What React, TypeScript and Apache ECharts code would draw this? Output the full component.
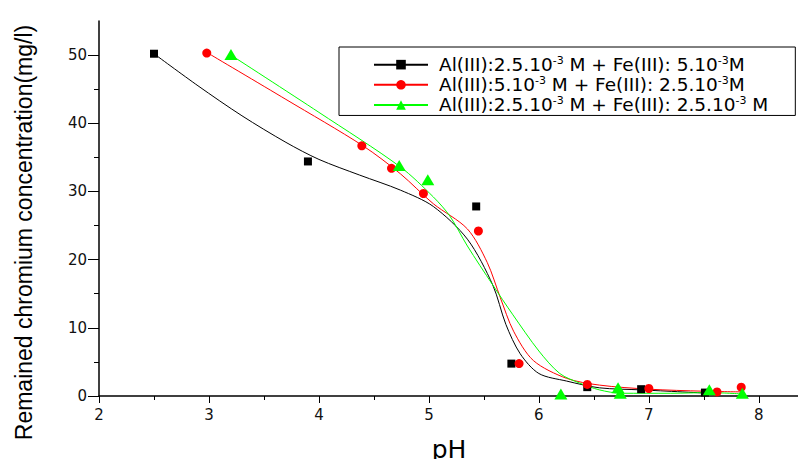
import React, { useEffect, useRef } from "react";
import * as echarts from "echarts";

const seriesNames = [
  "Al(III):2.5.10-3 M + Fe(III): 5.10-3M",
  "Al(III):5.10-3 M + Fe(III): 2.5.10-3M",
  "Al(III):2.5.10-3 M + Fe(III): 2.5.10-3 M",
];
const legendRich = [
  "{a|Al(III):2.5.10}{s|-3}{a| M + Fe(III): 5.10}{s|-3}{a|M}",
  "{a|Al(III):5.10}{s|-3}{a| M + Fe(III): 2.5.10}{s|-3}{a|M}",
  "{a|Al(III):2.5.10}{s|-3}{a| M + Fe(III): 2.5.10}{s|-3}{a| M}",
];
const colors = ["#000000", "#ff0000", "#00ff00"];
const symbols = ["rect", "circle", "triangle"];
const symbolSizes: any[] = [8, 9, [13, 11]];

// measured points
const pointsBlack = [
  [2.5, 50.2], [3.9, 34.4], [5.43, 27.8], [5.75, 4.75], [6.44, 1.3], [6.93, 1.0], [7.51, 0.5],
];
const pointsRed = [
  [2.98, 50.3], [4.39, 36.7], [4.66, 33.4], [4.95, 29.7], [5.45, 24.2], [5.82, 4.75],
  [6.44, 1.7], [7.0, 1.1], [7.62, 0.6], [7.84, 1.3],
];
const pointsGreen = [
  [3.2, 50.1], [4.73, 33.8], [4.99, 31.7], [6.2, 0.3], [6.72, 1.2], [6.74, 0.4],
  [7.55, 0.9], [7.85, 0.4],
];

// fitted curves
const curveBlack = [
  [2.5, 50.2], [2.9, 45.5], [3.3, 41.1], [3.7, 37.2], [4.0, 34.7], [4.37, 32.4],
  [4.74, 30.2], [5.04, 27.8], [5.35, 23.0], [5.58, 16.3], [5.7, 10.5], [5.83, 6.2],
  [6.0, 3.3], [6.25, 2.2], [6.55, 1.2], [6.93, 0.9], [7.55, 0.4],
];
const curveRed = [
  [3.0, 50.2], [3.7, 43.5], [4.4, 36.7], [4.74, 32.6], [5.04, 28.2], [5.35, 24.5],
  [5.53, 19.6], [5.65, 14.4], [5.77, 9.5], [5.95, 5.2], [6.25, 2.6], [6.55, 1.6],
  [7.0, 1.0], [7.5, 0.7], [7.85, 0.6],
];
const curveGreen = [
  [3.2, 50.0], [4.0, 41.6], [4.74, 33.6], [5.04, 29.2], [5.19, 26.4], [5.35, 22.0],
  [5.58, 16.3], [5.76, 12.0], [6.0, 6.6], [6.19, 3.3], [6.37, 1.9], [6.55, 0.9],
  [6.75, 0.4], [7.2, 0.4], [7.55, 0.5], [7.85, 0.3],
];

const xMajorTicks = [2, 3, 4, 5, 6, 7, 8];
const yMajorTicks = [0, 10, 20, 30, 40, 50];
const xAxisTitle = "pH";
const yAxisTitle = "Remained chromium concentration(mg/l)";

const FONT = "'Liberation Sans', Arial, sans-serif";
const WIDE = "'DejaVu Sans', sans-serif";

export default function App() {
  const ref = useRef<HTMLDivElement>(null);
  useEffect(() => {
    if (!ref.current) return;
    const chart = echarts.init(ref.current, null, { renderer: "svg" });
    const curves = [curveBlack, curveRed, curveGreen];
    const points = [pointsBlack, pointsRed, pointsGreen];
    const series: any[] = [];
    curves.forEach((c, i) => {
      series.push({
        type: "line",
        name: seriesNames[i],
        data: c,
        smooth: 0.3,
        showSymbol: false,
        symbol: symbols[i],
        symbolSize: 10,
        itemStyle: { color: colors[i] },
        lineStyle: { color: colors[i], width: 1 },
        z: 2,
      });
    });
    points.forEach((p, i) => {
      series.push({
        type: "scatter",
        name: "pts" + i,
        data: p,
        symbol: symbols[i],
        symbolSize: symbolSizes[i],
        itemStyle: { color: colors[i], opacity: 1 },
        z: 3,
      });
    });
    chart.setOption({
      animation: false,
      backgroundColor: "#ffffff",
      grid: { left: 99, right: 1, top: 21, bottom: 64, containLabel: false },
      legend: {
        data: seriesNames,
        orient: "vertical",
        left: 339,
        top: 47,
        padding: [7, 27, 1, 34],
        itemGap: 0,
        itemWidth: 54,
        itemHeight: 12,
        borderColor: "#000",
        borderWidth: 1,
        backgroundColor: "#fff",
        formatter: (name: string) => legendRich[seriesNames.indexOf(name)],
        textStyle: {
          fontFamily: WIDE,
          fontSize: 18.5,
          color: "#000",
          padding: [0, 0, 0, 6],
          rich: {
            a: { fontFamily: WIDE, fontSize: 18.5, color: "#000", lineHeight: 21.3 },
            s: { fontFamily: WIDE, fontSize: 11, color: "#000", lineHeight: 11, verticalAlign: "top", padding: [1, 0, 0, 0] },
          },
        },
      },
      xAxis: {
        type: "value",
        min: 2,
        max: 8.42,
        interval: 1,
        name: xAxisTitle,
        nameLocation: "middle",
        nameGap: 41,
        nameTextStyle: { fontFamily: WIDE, fontSize: 25, color: "#000", padding: [0, 6, 0, 0] },
        axisLine: { show: true, onZero: false, lineStyle: { color: "#000", width: 1.5 } },
        axisTick: { show: true, length: 7, customValues: xMajorTicks, lineStyle: { color: "#000", width: 1 } },
        minorTick: { show: true, splitNumber: 2, length: 4, lineStyle: { color: "#000", width: 1 } },
        axisLabel: { fontFamily: WIDE, fontSize: 15, color: "#111", margin: 11, customValues: xMajorTicks },
        splitLine: { show: false },
      },
      yAxis: {
        type: "value",
        min: 0,
        max: 55,
        interval: 10,
        name: yAxisTitle,
        nameLocation: "middle",
        nameGap: 64,
        nameTextStyle: { fontFamily: FONT, fontSize: 23, color: "#000", padding: [0, 48, 0, 0] },
        axisLine: { show: true, onZero: false, lineStyle: { color: "#000", width: 1.5 } },
        axisTick: { show: true, length: 11, customValues: yMajorTicks, lineStyle: { color: "#000", width: 1 } },
        minorTick: { show: true, splitNumber: 2, length: 5, lineStyle: { color: "#000", width: 1 } },
        axisLabel: { fontFamily: WIDE, fontSize: 15, color: "#111", margin: 12, customValues: yMajorTicks },
        splitLine: { show: false },
      },
      series,
    });
    return () => chart.dispose();
  }, []);
  return <div ref={ref} style={{ width: 806, height: 467, margin: -8 }} />;
}
